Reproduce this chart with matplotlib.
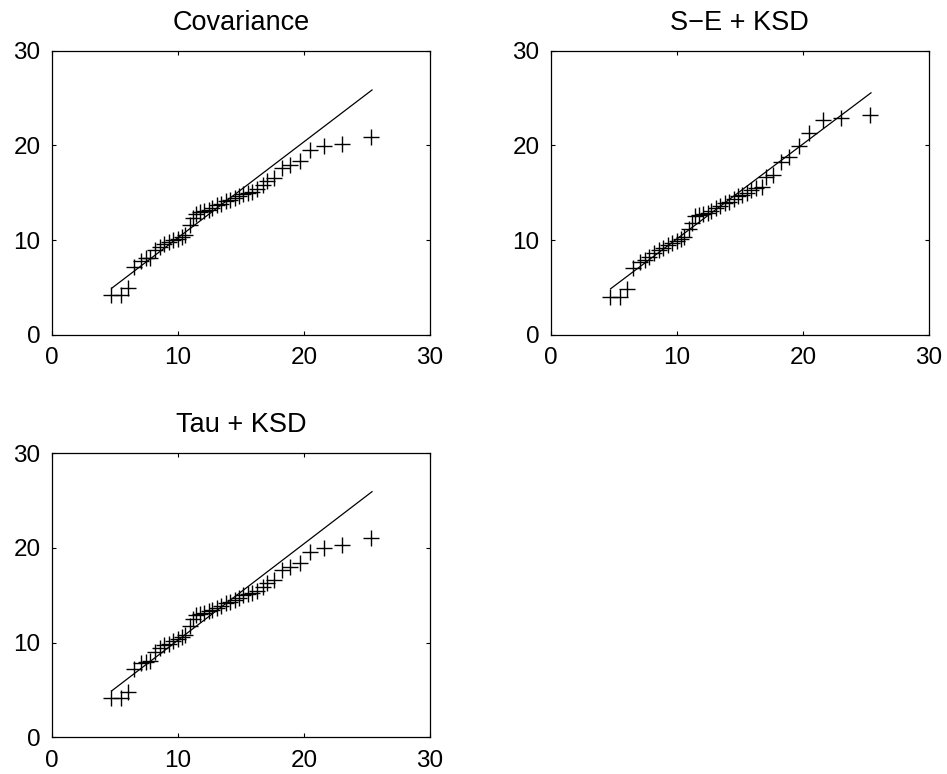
#!/usr/bin/env python3
"""Q-Q plots of three covariance estimators against the reference sample."""
import matplotlib

matplotlib.use("Agg")
import matplotlib.pyplot as plt

plt.rcParams["font.family"] = ["Liberation Sans", "DejaVu Sans"]

# reference-sample quantiles (shared x for every panel)
x_quant = [4.72, 5.5, 6.02, 6.55, 7.05, 7.45, 7.8, 8.2, 8.55, 8.9, 9.3, 9.65, 10.0, 10.3,
           10.6, 10.95, 11.2, 11.45, 11.75, 12.1, 12.45, 12.75, 13.1, 13.45, 13.8, 14.15,
           14.5, 14.85, 15.2, 15.55, 15.9, 16.3, 16.75, 17.1, 17.6, 18.3, 18.9, 19.7, 20.5,
           21.6, 23.0, 25.3]

y_cov = [4.2, 4.2, 4.9, 7.2, 7.8, 8.05, 8.1, 8.9, 9.3, 9.6, 9.8, 10.0, 10.1, 10.35, 10.5,
         11.6, 12.3, 12.8, 13.0, 13.1, 13.2, 13.35, 13.7, 13.85, 14.1, 14.2, 14.4, 14.6,
         14.9, 15.0, 15.1, 15.35, 15.8, 16.2, 16.5, 17.6, 17.9, 18.3, 19.5, 19.9, 20.1, 20.9]
y_se = [4.0, 4.0, 4.8, 7.0, 7.7, 7.9, 8.2, 8.6, 8.9, 9.2, 9.5, 9.7, 9.9, 10.1, 10.35, 11.2,
        11.8, 12.5, 12.6, 12.75, 12.9, 13.1, 13.35, 13.6, 13.9, 14.05, 14.3, 14.6, 14.75,
        15.0, 15.3, 15.5, 15.6, 16.7, 16.9, 18.2, 18.8, 19.9, 21.3, 22.7, 22.9, 23.2]
y_tau = [4.2, 4.2, 4.8, 7.2, 7.8, 8.0, 8.1, 9.0, 9.4, 9.7, 9.9, 10.2, 10.4, 10.6, 10.8,
         11.8, 12.5, 12.9, 13.0, 13.1, 13.3, 13.45, 13.7, 13.9, 14.15, 14.3, 14.5, 14.75,
         15.0, 15.1, 15.2, 15.5, 15.9, 16.3, 16.6, 17.7, 18.0, 18.4, 19.6, 20.0, 20.3, 21.1]

# fitted reference lines, endpoints only
line_x = [4.75, 25.4]
line_cov = [4.9, 25.85]
line_se = [4.85, 25.55]
line_tau = [4.9, 25.95]

TITLES = ["Covariance", "S\u2212E + KSD", "Tau + KSD"]
PANELS = [(y_cov, line_cov), (y_se, line_se), (y_tau, line_tau)]
POSITIONS = [
    [0.0546, 0.5676, 0.3995, 0.3669],
    [0.5815, 0.5676, 0.3995, 0.3669],
    [0.0546, 0.0474, 0.3995, 0.3669],
]


def qq_panel(ax, ys, line_y, title):
    ax.plot(line_x, line_y, color="black", linewidth=0.9)
    ax.plot(x_quant, ys, linestyle="none", marker="+", markersize=11.5,
            markeredgewidth=1.0, color="black")
    ax.set_xlim(0, 30)
    ax.set_ylim(0, 30)
    ax.set_xticks([0, 10, 20, 30])
    ax.set_yticks([0, 10, 20, 30])
    ax.tick_params(direction="in", length=3, width=0.8, top=True, right=True,
                   labelsize=17.5)
    ax.tick_params(axis="x", pad=9)
    ax.tick_params(axis="y", pad=8)
    for s in ax.spines.values():
        s.set_linewidth(0.9)
    ax.set_title(title, fontsize=19.5, pad=15)


fig = plt.figure(figsize=(9.47, 7.74), dpi=100)
for pos, (ys, line_y), title in zip(POSITIONS, PANELS, TITLES):
    ax = fig.add_axes(pos)
    qq_panel(ax, ys, line_y, title)

fig.savefig("out.png", dpi=100)
